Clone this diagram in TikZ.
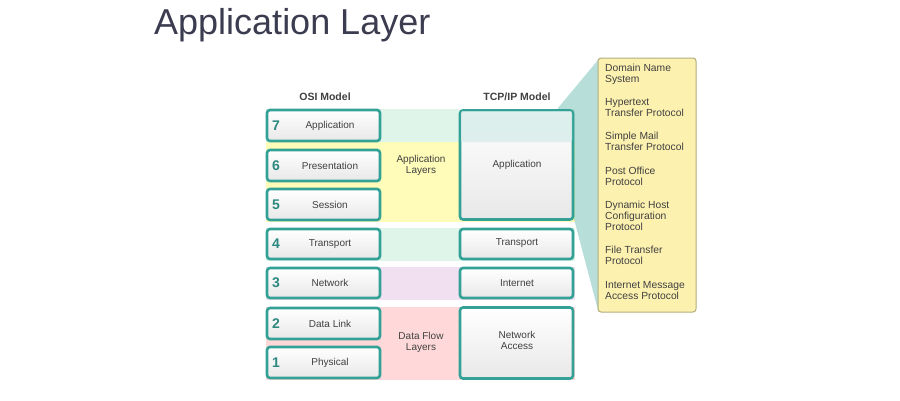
\documentclass[tikz,border=0pt]{standalone}
\usepackage{fontspec}
\setmainfont{Liberation Sans}
\begin{document}
\begin{tikzpicture}[x=1pt,y=-1pt,
  box/.style={draw=tl,line width=2.6pt,rounded corners=3pt,top color=white,bottom color=gray!18,inner sep=0pt},
  lbl/.style={font=\fontsize{10}{11}\selectfont,text=black!75,align=center},
  num/.style={font=\fontsize{14}{14}\selectfont\bfseries,text=tl!85!black},
  hdr/.style={font=\fontsize{10.5}{12}\selectfont\bfseries,text=black!75},
  cl/.style={font=\fontsize{10.3}{11}\selectfont,text=black!75,align=left,anchor=north west,inner sep=0pt}]
\definecolor{tl}{HTML}{33A195}
\definecolor{ttl}{HTML}{3C3C50}
\definecolor{cy}{HTML}{FDF1B0}
\useasboundingbox (0,0) rectangle (900,400);
\node[anchor=base west,font=\fontsize{36}{36}\selectfont,text=ttl,inner sep=0pt] (title) at (154,34) {Application Layer};
% bands
\fill[green!35!teal!12!white] (266,109) rectangle (575,142);
\fill[yellow!28] (266,142) rectangle (575,222);
\fill[green!35!teal!12!white] (266,228) rectangle (575,261);
\fill[violet!12] (266,267) rectangle (575,300);
\fill[red!15] (266,307) rectangle (575,380);
% callout fan
\fill[tl,opacity=0.35] (558,108) -- (598,60) -- (598,310) -- (574,219) -- cycle;
\node[draw=gray!70!yellow,line width=1pt,rounded corners=3pt,fill=cy,minimum width=98pt,minimum height=254pt,inner sep=0pt] (call) at (647,185) {};
\node[cl] (c1) at (605,64) {Domain Name\\System};
\node[cl] (c2) at (605,98) {Hypertext\\Transfer Protocol};
\node[cl] (c3) at (605,132) {Simple Mail\\Transfer Protocol};
\node[cl] (c4) at (605,167) {Post Office\\Protocol};
\node[cl] (c5) at (605,201) {Dynamic Host\\Configuration\\Protocol};
\node[cl] (c6) at (605,246) {File Transfer\\Protocol};
\node[cl] (c7) at (605,281) {Internet Message\\Access Protocol};
% headers
\node[hdr] (h1) at (325,97) {OSI Model};
\node[hdr] (h2) at (517,97) {TCP/IP Model};
% OSI boxes
\foreach \n/\t/\ya/\yb in {7/Application/110/141,6/Presentation/150/181,5/Session/189/220,4/Transport/229/259,3/Network/268/298,2/Data Link/308/339,1/Physical/347/378}{
  \node[box,minimum width=113pt,minimum height={\yb-\ya}] (o\n) at (323.5,{(\ya+\yb)/2}) {};
  \node[lbl] (ot\n) at (330,{(\ya+\yb)/2}) {\t};
  \node[num] (on\n) at (276,{(\ya+\yb)/2}) {\n};
}
% middle labels
\node[lbl] (al) at (421,165) {Application\\Layers};
\node[lbl] (dfl) at (421,342) {Data Flow\\Layers};
% TCP/IP
\node[box,minimum width=113pt,minimum height=109pt] (ta) at (516.5,165) {};
\fill[tl!20,opacity=0.8,rounded corners=2pt] (461,111) rectangle (572,142);
\node[lbl] (tat) at (517,165) {Application};
\node[box,minimum width=113pt,minimum height=30pt] (tt) at (516.5,244) {};
\node[lbl] (ttt) at (517,243) {Transport};
\node[box,minimum width=113pt,minimum height=30pt] (ti) at (516.5,283) {};
\node[lbl] (tit) at (517,283) {Internet};
\node[box,minimum width=113pt,minimum height=71pt] (tn) at (516.5,343) {};
\node[lbl] (tnt) at (517,340) {Network\\Access};
\end{tikzpicture}
\end{document}
